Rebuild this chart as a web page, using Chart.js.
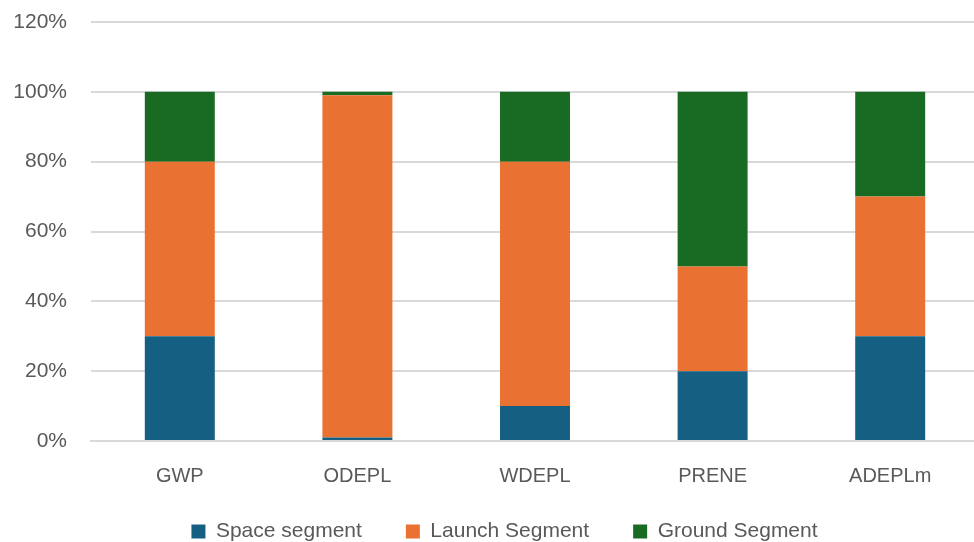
<!DOCTYPE html>
<html>
<head>
<meta charset="utf-8">
<script src="https://cdn.jsdelivr.net/npm/chart.js@4.4.1/dist/chart.umd.min.js"></script>
<style>
  html, body { margin: 0; padding: 0; background: #fff; overflow: hidden; }
  #wrap { width: 979px; height: 542px; }
</style>
</head>
<body>
<div id="wrap"><canvas id="impactChart"></canvas></div>
<script>
// Categories (impact indicators)
const categories = ['GWP', 'ODEPL', 'WDEPL', 'PRENE', 'ADEPLm'];

// Share of each segment, in percent
const spaceSegment = [30, 1, 10, 20, 30];
const launchSegment = [50, 98, 70, 30, 40];
const groundSegment = [20, 1, 20, 50, 30];

const yTicks = { min: 0, max: 120, step: 20 };

const textColor = '#595959';
const gridColor = '#d9d9d9';
const fontFamily = '"Liberation Sans", Arial, sans-serif';

// legend: wide gaps between items, but keep its box short
const legendGap = 44;
const legendHeight = 46;
const legendShift = { x: 15, y: 19 };

const legendTweak = {
    id: 'legendTweak',
    beforeLayout(chart) {
        const lg = chart.legend;
        if (lg && !lg._tweaked) {
            const fit = lg.fit;
            lg.fit = function () {
                fit.call(this);
                this.height = legendHeight;
            };
            lg._tweaked = true;
        }
    },
    afterLayout(chart) {
        const lg = chart.legend;
        lg.top -= legendShift.y;
        lg.left += legendShift.x;
        lg.right += legendShift.x;
    },
};

const ctx = document.getElementById('impactChart').getContext('2d');
new Chart(ctx, {
    type: 'bar',
    data: {
        labels: categories,
        datasets: [
            { label: 'Space segment', data: spaceSegment, backgroundColor: '#156082' },
            { label: 'Launch Segment', data: launchSegment, backgroundColor: '#E97132' },
            { label: 'Ground Segment', data: groundSegment, backgroundColor: '#196B24' },
        ],
    },
    plugins: [legendTweak],
    options: {
        responsive: true,
        maintainAspectRatio: false,
        animation: false,
        layout: { padding: 0 },
        datasets: {
            bar: { barPercentage: 0.394, categoryPercentage: 1.0 },
        },
        plugins: {
            legend: {
                position: 'bottom',
                labels: {
                    color: textColor,
                    font: { family: fontFamily, size: 21 },
                    boxWidth: 14,
                    boxHeight: 14,
                    padding: legendGap,
                },
            },
            tooltip: { enabled: false },
        },
        scales: {
            x: {
                stacked: true,
                grid: { display: false },
                border: { color: gridColor, width: 2 },
                ticks: {
                    color: textColor,
                    font: { family: fontFamily, size: 20 },
                    padding: 15,
                },
                afterFit: (scale) => { scale.height = 55; },
            },
            y: {
                stacked: true,
                min: yTicks.min,
                max: yTicks.max,
                border: { display: false },
                grid: { color: gridColor, lineWidth: 2, drawTicks: false },
                ticks: {
                    stepSize: yTicks.step,
                    color: textColor,
                    font: { family: fontFamily, size: 21 },
                    padding: 24,
                    callback: (v) => v + '%',
                },
                afterFit: (scale) => {
                    scale.width = 91;
                    scale.paddingTop = 22;
                },
            },
        },
    },
});
</script>
</body>
</html>
